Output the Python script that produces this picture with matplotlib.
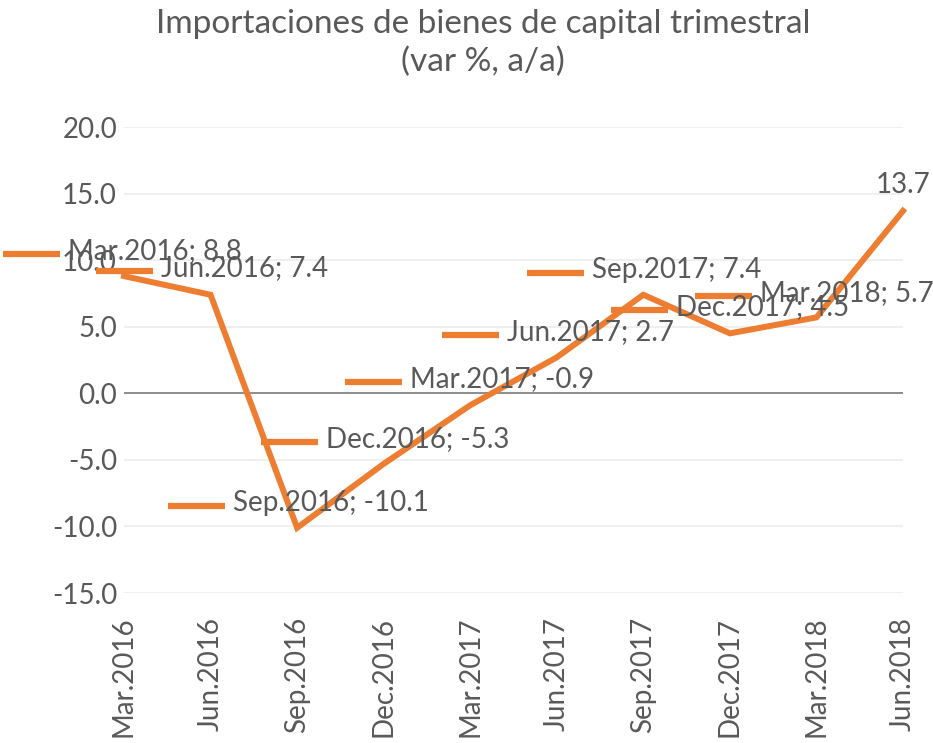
import matplotlib
matplotlib.use("Agg")
import matplotlib.pyplot as plt
from matplotlib.lines import Line2D

categories = ["Mar.2016", "Jun.2016", "Sep.2016", "Dec.2016", "Mar.2017",
              "Jun.2017", "Sep.2017", "Dec.2017", "Mar.2018", "Jun.2018"]
values = [8.8, 7.4, -10.1, -5.3, -0.9, 2.7, 7.4, 4.5, 5.7, 13.7]
y_ticks = [-15, -10, -5, 0, 5, 10, 15, 20]
title = "Importaciones de bienes de capital trimestral\n(var %, a/a)"

# label offsets (pixels) of the legend-key dash start relative to each point
label_dx = [-121, -115, -129, -123, -125, -115, -116, -119, -121, None]
label_dy = [22, 24, 22, 22, 23, 22, 22, 23, 21, None]

ORANGE = "#ED7D31"
TXT = "#595959"
FONT = "Lato"
plt.rcParams["font.family"] = [FONT, "DejaVu Sans"]

W, H = 933, 743
fig = plt.figure(figsize=(W / 100, H / 100), dpi=100)
ax = fig.add_axes([124 / W, (H - 593) / H, (903 - 124) / W, (593 - 127) / H])

x = list(range(len(categories)))
ax.plot(x, values, color=ORANGE, lw=4.3, solid_joinstyle="miter", zorder=3, clip_on=False)

ax.set_xlim(0, len(categories) - 1)
ax.set_ylim(-15, 20)
ax.set_yticks(y_ticks)
ax.set_yticklabels([f"{v:.1f}" for v in y_ticks])
ax.set_xticks(x)
ax.set_xticklabels(categories, rotation=90)
ax.tick_params(axis="both", length=0, labelsize=20, labelcolor=TXT)
ax.tick_params(axis="y", pad=5)
ax.tick_params(axis="x", pad=17)
for s in ax.spines.values():
    s.set_visible(False)
ax.grid(axis="y", color="#EEEEEE", lw=1.3, zorder=0)
ax.set_axisbelow(True)
ax.axhline(0, color="#868686", lw=1.3, zorder=1)

fig.text(483 / W, 1 - 9 / H, title, ha="center", va="top", fontsize=24, color=TXT,
         linespacing=1.3)

# data labels with legend key
fig.canvas.draw()
for i, (cat, v) in enumerate(zip(categories, values)):
    px, py = ax.transData.transform((i, v))
    if label_dx[i] is None:
        fig.text(px / W, (py + 26) / H, f"{v:.1f}", ha="center", va="center",
                 fontsize=20, color=TXT, zorder=5)
        continue
    x0 = px + label_dx[i]
    y0 = py + label_dy[i]
    fig.add_artist(Line2D([x0 / W, (x0 + 57) / W], [y0 / H, y0 / H], color=ORANGE,
                          lw=4.5, solid_capstyle="butt", transform=fig.transFigure, zorder=4))
    fig.text((x0 + 65) / W, (y0 - 5) / H, f"{cat}; {v:.1f}", ha="left", va="baseline",
             fontsize=20, color=TXT, zorder=5)

fig.savefig("out.png", dpi=100)
